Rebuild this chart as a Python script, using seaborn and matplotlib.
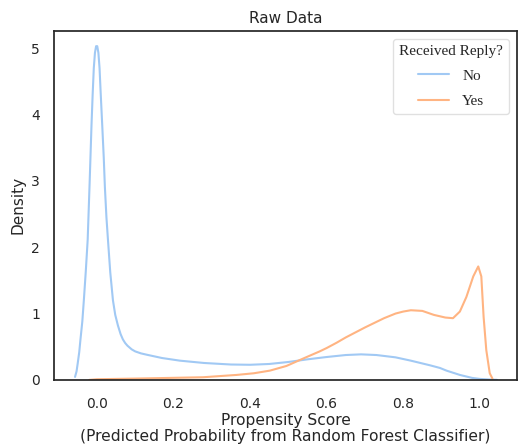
import matplotlib
matplotlib.use("Agg")
import matplotlib.pyplot as plt
import pandas as pd
import seaborn as sns

# Density curves of the propensity score, one per reply group
no_score = [-0.057, -0.053, -0.05, -0.046, -0.043, -0.038, -0.034, -0.029, -0.024,
            -0.019, -0.014, -0.011, -0.008, -0.005, -0.002, 0.001, 0.004, 0.007,
            0.010, 0.014, 0.018, 0.021, 0.025, 0.029, 0.035, 0.042, 0.048, 0.055,
            0.062, 0.068, 0.074, 0.08, 0.091, 0.1, 0.115, 0.13, 0.17, 0.217, 0.28,
            0.35, 0.4, 0.45, 0.5, 0.55, 0.6, 0.65, 0.69, 0.73, 0.78, 0.82, 0.87,
            0.896, 0.913, 0.948, 0.98, 1.0, 1.03, 1.045]
no_density = [0.045, 0.13, 0.25, 0.42, 0.60, 0.88, 1.20, 1.63, 2.11,
              2.95, 3.84, 4.30, 4.70, 4.93, 5.03, 5.03, 4.93, 4.70,
              4.32, 3.84, 3.35, 2.90, 2.45, 2.11, 1.62, 1.20, 0.98, 0.82,
              0.69, 0.61, 0.555, 0.515, 0.46, 0.43, 0.40, 0.38, 0.33, 0.29, 0.255,
              0.232, 0.228, 0.24, 0.27, 0.31, 0.345, 0.375, 0.385, 0.375, 0.34, 0.29, 0.22,
              0.18, 0.14, 0.075, 0.03, 0.015, 0.004, 0.001]

yes_score = [-0.02, 0.0, 0.05, 0.1, 0.19, 0.277, 0.365, 0.41, 0.452, 0.495, 0.538,
             0.582, 0.6, 0.626, 0.65, 0.7, 0.75, 0.78, 0.8, 0.82, 0.85, 0.88,
             0.91, 0.93, 0.948, 0.965, 0.983, 0.996, 1.004, 1.01, 1.017, 1.026, 1.033]
yes_density = [0.0, 0.01, 0.015, 0.02, 0.03, 0.04, 0.075, 0.10, 0.14, 0.21, 0.32,
               0.43, 0.48, 0.56, 0.64, 0.79, 0.93, 1.00, 1.03, 1.05, 1.04, 0.98,
               0.94, 0.93, 1.03, 1.25, 1.56, 1.71, 1.56, 0.95, 0.45, 0.10, 0.02]

reply_labels = ["No", "Yes"]

sns.set_theme(style="white", palette="pastel")
plt.rcParams["font.family"] = ["DejaVu Sans"]

df = pd.concat([
    pd.DataFrame({"score": no_score, "density": no_density, "Received Reply?": reply_labels[0]}),
    pd.DataFrame({"score": yes_score, "density": yes_density, "Received Reply?": reply_labels[1]}),
], ignore_index=True)

fig, ax = plt.subplots(figsize=(5.19, 4.48), dpi=100)
fig.subplots_adjust(left=0.104, right=0.996, top=0.931, bottom=0.152)

sns.lineplot(data=df, x="score", y="density", hue="Received Reply?",
             hue_order=reply_labels, estimator=None, sort=False,
             linewidth=1.5, ax=ax)

ax.set_xlim(-0.112, 1.097)
ax.set_ylim(0, 5.26)
ax.set_xticks([0.0, 0.2, 0.4, 0.6, 0.8, 1.0])
ax.set_yticks([0, 1, 2, 3, 4, 5])
ax.tick_params(axis="x", labelsize=10, length=0, pad=12)
ax.tick_params(axis="y", labelsize=10, length=0, pad=10)

ax.set_title("Raw Data", fontsize=11)
ax.set_xlabel("Propensity Score\n(Predicted Probability from Random Forest Classifier)",
              fontsize=11.2, labelpad=2, linespacing=1.05)
ax.set_ylabel("Density", fontsize=11)

for side in ax.spines.values():
    side.set_color("#262626")
    side.set_linewidth(1.25)

leg = ax.legend(title="Received Reply?", loc="upper right",
                prop={"family": "Liberation Serif", "size": 11},
                title_fontproperties={"family": "Liberation Serif", "size": 11},
                frameon=True, borderaxespad=0.5, labelspacing=0.75,
                handletextpad=0.9)
leg.get_frame().set_edgecolor("#d9d9d9")

fig.savefig("out.png", dpi=100)
